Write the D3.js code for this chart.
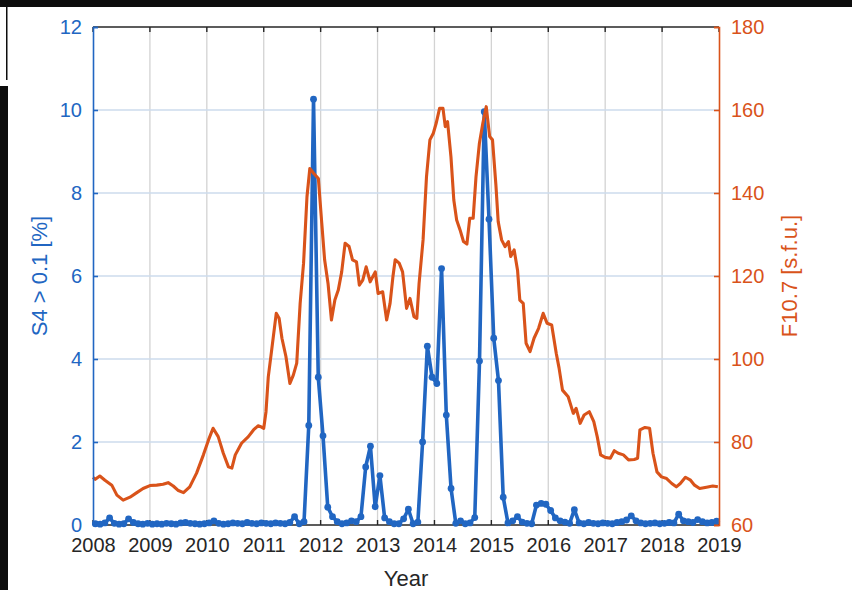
<!DOCTYPE html>
<html>
<head>
<meta charset="utf-8">
<script src="https://cdn.jsdelivr.net/npm/d3@7"></script>
<style>
  html, body { margin: 0; padding: 0; background: #ffffff; }
  svg { display: block; }
  text { font-family: "Liberation Sans", Arial, Helvetica, sans-serif; }
</style>
</head>
<body>
<svg id="chart" width="852" height="590"></svg>
<script>
// Monthly occurrence of S4 > 0.1 [%], January 2008 .. December 2018
const s4Values = [
  0.03, 0.02, 0.05, 0.17, 0.04, 0.02, 0.03, 0.15, 0.06, 0.03, 0.02, 0.04,
  0.02, 0.03, 0.02, 0.04, 0.03, 0.02, 0.05, 0.06, 0.04, 0.03, 0.02, 0.03,
  0.05, 0.10, 0.04, 0.02, 0.03, 0.05, 0.04, 0.03, 0.06, 0.04, 0.03, 0.05,
  0.04, 0.03, 0.05, 0.04, 0.03, 0.06, 0.20, 0.03, 0.08, 2.40, 10.26, 3.56,
  2.15, 0.43, 0.20, 0.08, 0.03, 0.05, 0.10, 0.08, 0.20, 1.40, 1.90, 0.44,
  1.19, 0.17, 0.08, 0.03, 0.03, 0.15, 0.38, 0.03, 0.07, 2.00, 4.31, 3.56,
  3.41, 6.18, 2.65, 0.88, 0.04, 0.10, 0.03, 0.05, 0.18, 3.95, 9.96, 7.37,
  4.50, 3.48, 0.67, 0.05, 0.10, 0.20, 0.07, 0.04, 0.03, 0.48, 0.52, 0.50,
  0.35, 0.17, 0.10, 0.07, 0.04, 0.37, 0.05, 0.03, 0.06, 0.04, 0.03, 0.05,
  0.04, 0.03, 0.06, 0.08, 0.12, 0.22, 0.10, 0.05, 0.03, 0.04, 0.05, 0.03,
  0.04, 0.06, 0.05, 0.26, 0.10, 0.08, 0.06, 0.13, 0.08, 0.05, 0.06, 0.09
];
const s4StartYear = 2008;

// Smoothed solar radio flux F10.7 [s.f.u.]
const f107Years = [
  2008.00, 2008.04, 2008.12, 2008.21, 2008.33, 2008.42, 2008.53, 2008.65, 2008.77, 2008.88,
  2009.00, 2009.12, 2009.23, 2009.32, 2009.41, 2009.50, 2009.59, 2009.70, 2009.82, 2009.94,
  2010.03, 2010.11, 2010.20, 2010.29, 2010.38, 2010.44, 2010.50, 2010.61, 2010.73, 2010.82,
  2010.90, 2010.96, 2011.00, 2011.04, 2011.08, 2011.14, 2011.22, 2011.27, 2011.32, 2011.39,
  2011.46, 2011.52, 2011.58, 2011.64, 2011.70, 2011.76, 2011.81, 2011.88, 2011.96, 2012.02,
  2012.07, 2012.13, 2012.19, 2012.25, 2012.31, 2012.37, 2012.43, 2012.50, 2012.56, 2012.63,
  2012.68, 2012.74, 2012.80, 2012.87, 2012.96, 2013.01, 2013.09, 2013.16, 2013.22, 2013.27,
  2013.31, 2013.38, 2013.44, 2013.51, 2013.57, 2013.64, 2013.69, 2013.73, 2013.80, 2013.86,
  2013.92, 2013.98, 2014.03, 2014.09, 2014.15, 2014.19, 2014.23, 2014.29, 2014.34, 2014.39,
  2014.45, 2014.51, 2014.57, 2014.62, 2014.68, 2014.73, 2014.79, 2014.85, 2014.91, 2014.97,
  2015.02, 2015.08, 2015.12, 2015.18, 2015.24, 2015.30, 2015.34, 2015.40, 2015.46, 2015.50,
  2015.56, 2015.61, 2015.68, 2015.75, 2015.83, 2015.91, 2015.98, 2016.06, 2016.14, 2016.19,
  2016.25, 2016.35, 2016.44, 2016.49, 2016.56, 2016.63, 2016.72, 2016.80, 2016.86, 2016.92,
  2017.00, 2017.09, 2017.16, 2017.23, 2017.32, 2017.41, 2017.51, 2017.57, 2017.61, 2017.70,
  2017.78, 2017.84, 2017.91, 2017.99, 2018.08, 2018.17, 2018.25, 2018.32, 2018.41, 2018.50,
  2018.57, 2018.66, 2018.78, 2018.89, 2018.98
];
const f107Values = [
  71.5, 71.0, 71.8, 70.8, 69.6, 67.2, 66.0, 66.7, 67.8, 68.8,
  69.5, 69.6, 69.8, 70.2, 69.4, 68.3, 67.8, 69.2, 72.5, 76.9,
  80.5, 83.3, 81.3, 77.3, 74.0, 73.7, 76.9, 79.7, 81.3, 82.9,
  83.9, 83.6, 83.3, 87.3, 95.7, 102.2, 111.0, 109.8, 105.0, 100.6,
  94.1, 96.1, 99.0, 113.4, 123.1, 139.1, 145.9, 144.7, 143.5, 132.7,
  123.9, 118.2, 109.4, 114.2, 116.6, 121.0, 127.9, 127.1, 123.9, 123.4,
  117.8, 119.0, 122.2, 118.6, 121.0, 115.8, 116.2, 109.4, 113.4, 119.8,
  123.9, 123.1, 121.0, 112.2, 114.6, 110.2, 109.8, 118.2, 128.7, 143.9,
  152.8, 154.4, 156.8, 160.4, 160.4, 156.0, 157.2, 148.7, 138.3, 133.5,
  131.1, 128.3, 127.7, 133.9, 133.9, 143.9, 152.0, 156.8, 160.8, 153.6,
  152.8, 141.9, 133.1, 128.7, 127.1, 128.3, 124.7, 126.3, 121.4, 114.2,
  113.4, 103.8, 101.8, 105.0, 107.4, 111.0, 108.6, 108.2, 101.4, 97.8,
  92.5, 90.9, 86.9, 88.1, 84.5, 86.5, 87.3, 84.9, 81.3, 76.9,
  76.3, 76.1, 77.9, 77.3, 76.9, 75.7, 75.8, 76.1, 82.9, 83.5,
  83.3, 77.3, 72.8, 71.6, 71.2, 70.0, 69.2, 70.0, 71.5, 70.8,
  69.6, 68.8, 69.1, 69.4, 69.2
];

// Axis ticks
const yearTicks = [2008, 2009, 2010, 2011, 2012, 2013, 2014, 2015, 2016, 2017, 2018, 2019];
const s4Ticks = [0, 2, 4, 6, 8, 10, 12];
const f107Ticks = [60, 80, 100, 120, 140, 160, 180];

const colorS4 = "#2166c2";
const colorF107 = "#d9531a";

const svg = d3.select("#chart");
const W = 852, H = 590;
const margin = { left: 93, right: 852 - 719, top: 27, bottom: 590 - 525 };
const iw = W - margin.left - margin.right;
const ih = H - margin.top - margin.bottom;

svg.append("rect").attr("width", W).attr("height", H).attr("fill", "#ffffff");

const x = d3.scaleLinear().domain([2008, 2019]).range([margin.left, margin.left + iw]);
const yL = d3.scaleLinear().domain([0, 12]).range([margin.top + ih, margin.top]);
const yR = d3.scaleLinear().domain([60, 180]).range([margin.top + ih, margin.top]);

// Grid
const grid = svg.append("g");
grid.selectAll("line.v").data(yearTicks.slice(1, -1)).join("line")
  .attr("x1", d => x(d)).attr("x2", d => x(d))
  .attr("y1", margin.top).attr("y2", margin.top + ih)
  .attr("stroke", "#d3d3d3").attr("stroke-width", 1.3);
grid.selectAll("line.h").data(s4Ticks.slice(1, -1)).join("line")
  .attr("x1", margin.left).attr("x2", margin.left + iw)
  .attr("y1", d => yL(d)).attr("y2", d => yL(d))
  .attr("stroke", "#cddbec").attr("stroke-width", 1.3);

// Box: top and bottom edges with inward year ticks
const frame = svg.append("g");
frame.append("line").attr("x1", margin.left).attr("x2", margin.left + iw)
  .attr("y1", margin.top).attr("y2", margin.top).attr("stroke", "#262626").attr("stroke-width", 1.4);
frame.append("line").attr("x1", margin.left).attr("x2", margin.left + iw)
  .attr("y1", margin.top + ih).attr("y2", margin.top + ih).attr("stroke", "#262626").attr("stroke-width", 1.4);
frame.selectAll("line.tb").data(yearTicks).join("line")
  .attr("x1", d => x(d)).attr("x2", d => x(d))
  .attr("y1", margin.top + ih).attr("y2", margin.top + ih - 5)
  .attr("stroke", "#262626").attr("stroke-width", 1.4);
frame.selectAll("line.tt").data(yearTicks).join("line")
  .attr("x1", d => x(d)).attr("x2", d => x(d))
  .attr("y1", margin.top).attr("y2", margin.top + 5)
  .attr("stroke", "#262626").attr("stroke-width", 1.4);

// Data
const s4Data = s4Values.map((v, i) => ({ t: s4StartYear + (i + 0.5) / 12, v }));
const f107Data = f107Years.map((t, i) => ({ t, v: f107Values[i] }));

const s4Line = d3.line().x(d => x(d.t)).y(d => yL(d.v));
const fLine = d3.line().x(d => x(d.t)).y(d => yR(d.v));

svg.append("path").datum(s4Data).attr("d", s4Line)
  .attr("fill", "none").attr("stroke", colorS4).attr("stroke-width", 3.6)
  .attr("stroke-linejoin", "round");
svg.append("g").selectAll("circle").data(s4Data).join("circle")
  .attr("cx", d => x(d.t)).attr("cy", d => yL(d.v)).attr("r", 3.4)
  .attr("fill", colorS4);

svg.append("path").datum(f107Data).attr("d", fLine)
  .attr("fill", "none").attr("stroke", colorF107).attr("stroke-width", 3.1)
  .attr("stroke-linejoin", "round");

// Left axis
const axL = d3.axisLeft(yL).tickValues(s4Ticks).tickSize(-5).tickPadding(11);
const gL = svg.append("g").attr("transform", `translate(${margin.left},0)`).call(axL);
gL.select(".domain").attr("stroke", colorS4).attr("stroke-width", 1.6);
gL.selectAll(".tick line").attr("stroke", colorS4).attr("stroke-width", 1.6);
gL.selectAll(".tick text").attr("fill", colorS4).attr("font-size", 20)
  .attr("font-family", "Liberation Sans, Arial, sans-serif");

// Right axis
const axR = d3.axisRight(yR).tickValues(f107Ticks).tickSize(-5).tickPadding(12);
const gR = svg.append("g").attr("transform", `translate(${margin.left + iw},0)`).call(axR);
gR.select(".domain").attr("stroke", colorF107).attr("stroke-width", 1.6);
gR.selectAll(".tick line").attr("stroke", colorF107).attr("stroke-width", 1.6);
gR.selectAll(".tick text").attr("fill", colorF107).attr("font-size", 20)
  .attr("font-family", "Liberation Sans, Arial, sans-serif");

// Bottom year labels
const axB = d3.axisBottom(x).tickValues(yearTicks).tickFormat(d3.format("d")).tickSize(0).tickPadding(13);
const gB = svg.append("g").attr("transform", `translate(0,${margin.top + ih})`).call(axB);
gB.select(".domain").remove();
gB.selectAll(".tick text").attr("fill", "#262626").attr("font-size", 20)
  .attr("font-family", "Liberation Sans, Arial, sans-serif");

// Axis titles
svg.append("text").attr("x", margin.left + iw / 2).attr("y", 586)
  .attr("text-anchor", "middle").attr("font-size", 22).attr("fill", "#262626").text("Year");
svg.append("text")
  .attr("transform", `translate(47,${margin.top + ih / 2}) rotate(-90)`)
  .attr("text-anchor", "middle").attr("font-size", 22).attr("fill", colorS4).text("S4 > 0.1 [%]");
svg.append("text")
  .attr("transform", `translate(797,${margin.top + ih / 2}) rotate(-90)`)
  .attr("text-anchor", "middle").attr("font-size", 22).attr("fill", colorF107).text("F10.7 [s.f.u.]");

// Dark border bands around the figure
svg.append("rect").attr("x", 0).attr("y", 0).attr("width", W).attr("height", 7).attr("fill", "#0d0d0d");
svg.append("rect").attr("x", 0).attr("y", 86).attr("width", 8).attr("height", H - 86).attr("fill", "#0d0d0d");
svg.append("rect").attr("x", 6).attr("y", 7).attr("width", 1.5).attr("height", 73).attr("fill", "#0d0d0d");
</script>
</body>
</html>
